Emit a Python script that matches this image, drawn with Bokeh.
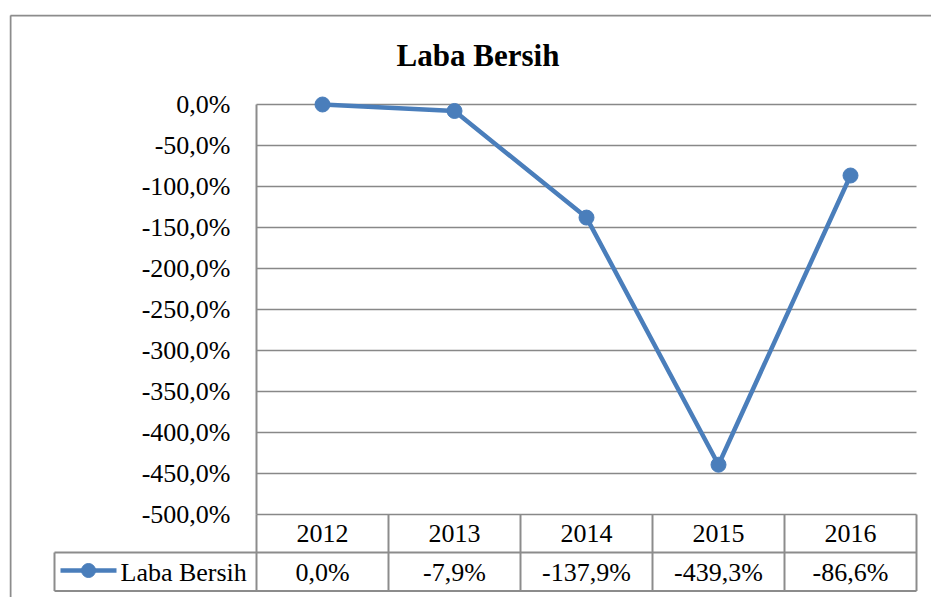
from bokeh.plotting import figure
from bokeh.models import Range1d, FixedTicker
from bokeh.core.properties import value
from bokeh.embed import file_html
from bokeh.resources import INLINE

# ---------------- data ----------------
title_text = "Laba Bersih"
series_name = "Laba Bersih"
years = ["2012", "2013", "2014", "2015", "2016"]
laba_bersih = [0.0, -7.9, -137.9, -439.3, -86.6]
tick_values = [0, -50, -100, -150, -200, -250, -300, -350, -400, -450, -500]
tick_labels = ["0,0%", "-50,0%", "-100,0%", "-150,0%", "-200,0%", "-250,0%",
               "-300,0%", "-350,0%", "-400,0%", "-450,0%", "-500,0%"]

# ---------------- layout (page pixels) ----------------
OFF = 0                     # where the figure's top-left lands on the page
W, H = 931, 597
FL, FT = 9, 14              # frame left/top in page px
FR, FB = 931, 597           # frame right/bottom in page px
PL, PR = 256, 916           # plot area left/right
PT, PB = 104, 514           # plot area top (0%) / bottom (-500%)
ROW1, ROW2 = 552, 590.5     # table row lines
LEG_L = 54                  # legend cell left
BORDER_X, BORDER_Y = 10, 15

n = len(years)
ymax, ymin = tick_values[0], tick_values[-1]
xu = (PR - PL) / n                     # px per column
yu = (PB - PT) / (ymax - ymin)         # px per %

def dx(px):
    return (px - PL) / xu

def dy(py):
    return ymax - (py - PT) / yu

FONT = "Liberation Serif"
BLUE = "#4a7ebb"
GRAY = "#8c8c8c"

p = figure(width=W, height=H, output_backend="svg", toolbar_location=None,
           x_axis_location=None, y_axis_location="left",
           x_range=Range1d(dx(FL), dx(FR)), y_range=Range1d(dy(FB), dy(FT)),
           min_border_left=FL - OFF, min_border_right=0,
           min_border_top=FT - OFF, min_border_bottom=0)
p.outline_line_color = None
p.background_fill_color = "white"
p.border_fill_color = "white"
p.xgrid.grid_line_color = None
p.ygrid.grid_line_color = None

# y axis inside the frame at the plot-area left edge
ax = p.yaxis[0]
ax.fixed_location = 0
ax.bounds = (ymin, ymax)
ax.ticker = FixedTicker(ticks=tick_values)
ax.major_label_overrides = {v: s for v, s in zip(tick_values, tick_labels)}
ax.major_label_text_font = FONT
ax.major_label_text_font_size = "26px"
ax.major_label_text_color = "black"
ax.major_label_standoff = 20
ax.major_tick_line_color = None
ax.minor_tick_line_color = None
ax.axis_line_color = GRAY
ax.axis_line_width = 2

# outer chart border (left and top)
p.segment(x0=[dx(BORDER_X), dx(BORDER_X)], y0=[dy(BORDER_Y), dy(BORDER_Y)],
          x1=[dx(BORDER_X), dx(FR + 5)], y1=[dy(FB + 5), dy(BORDER_Y)],
          line_color=GRAY, line_width=2)

# horizontal gridlines
p.segment(x0=[0] * len(tick_values), y0=tick_values,
          x1=[n] * len(tick_values), y1=tick_values,
          line_color="#888888", line_width=1.6)

# data table grid
hx0 = [dx(LEG_L), dx(LEG_L)]
hy = [dy(ROW1), dy(ROW2)]
p.segment(x0=hx0, y0=hy, x1=[n, n], y1=hy, line_color=GRAY, line_width=2)
vx = list(range(n + 1))
p.segment(x0=vx, y0=[ymin] * len(vx), x1=vx, y1=[dy(ROW2)] * len(vx),
          line_color=GRAY, line_width=2)
p.segment(x0=[dx(LEG_L)], y0=[dy(ROW1)], x1=[dx(LEG_L)], y1=[dy(ROW2)],
          line_color=GRAY, line_width=2)

# series
xs = [i + 0.5 for i in range(n)]
p.line(xs, laba_bersih, line_color=BLUE, line_width=4.5)
p.scatter(xs, laba_bersih, size=15, fill_color=BLUE, line_color=BLUE)

# table texts
val_labels = [f"{v:.1f}".replace(".", ",") + "%" for v in laba_bersih]
p.text(x=xs, y=[dy(532.5)] * n, text=years, text_align="center",
       text_baseline="middle", text_font=value(FONT),
       text_font_size="26px", text_color="black")
p.text(x=xs, y=[dy(571.5)] * n, text=val_labels, text_align="center",
       text_baseline="middle", text_font=value(FONT),
       text_font_size="26px", text_color="black")

# legend key inside table
ly = dy(570)
p.line([dx(60), dx(116)], [ly, ly], line_color=BLUE, line_width=4.5)
p.scatter([dx(88)], [ly], size=14, fill_color=BLUE, line_color=BLUE)
p.text(x=[dx(120)], y=[dy(571.5)], text=[series_name], text_align="left",
       text_baseline="middle", text_font=value(FONT),
       text_font_size="26px", text_color="black")

# title
p.text(x=[dx(477.5)], y=[dy(54.5)], text=[title_text], text_align="center",
       text_baseline="middle", text_font=value(FONT),
       text_font_size="31px", text_font_style="bold", text_color="black")

open("out.html", "w").write(file_html(p, INLINE))
